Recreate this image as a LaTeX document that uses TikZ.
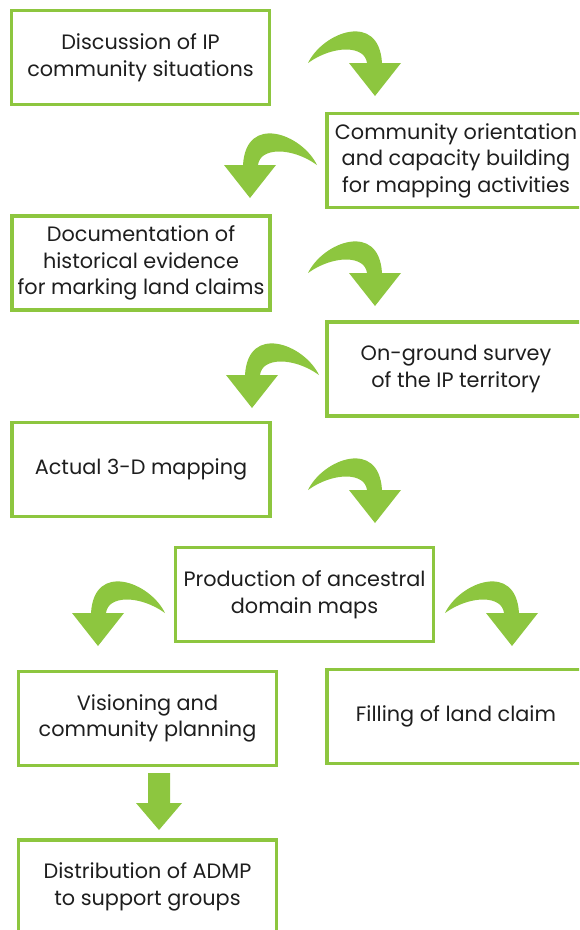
\documentclass[tikz,border=0pt]{standalone}
\usepackage{fontspec}
\setmainfont{Poppins}
\usetikzlibrary{calc}
\definecolor{gr}{HTML}{8DC63F}
\definecolor{tx}{HTML}{1E1E1E}
\begin{document}
\begin{tikzpicture}[x=1pt,y=-1pt,
  box/.style={draw=gr, line width=3.5pt, minimum width=258pt, minimum height=94pt,
    align=center, text=tx, inner sep=0pt, font=\fontsize{20.8}{26.5}\selectfont},
  carrow/.pic={
    \fill[gr] (0,0) .. controls (15,-31) and (71,-52) .. (74,0) -- (93,0) -- (67,33)
      -- (41,0) -- (59,0) .. controls (57,-18) and (25,-18) .. (0,0) -- cycle;
  }]
\useasboundingbox (0,0) rectangle (579,930);
\clip (0,0) rectangle (579,930);

\node[box] (b1) at (140.5,57.5) {Discussion of IP\\community situations};
\node[box] (b2) at (456,160.5) {Community orientation\\and capacity building\\for mapping activities};
\node[box] (b3) at (141,263) {Documentation of\\historical evidence\\for marking land claims};
\node[box] (b4) at (456,369) {On-ground survey\\of the IP territory};
\node[box] (b5) at (141,469.5) {Actual 3-D mapping};
\node[box] (b6) at (304.5,594.5) {Production of ancestral\\domain maps};
\node[box] (b7) at (147.5,718.5) {Visioning and\\community planning};
\node[box] (b8) at (456,716.5) {Filling of land claim};
\node[box] (b9) at (147.5,887) {Distribution of ADMP\\to support groups};

\pic at (308,63) {carrow};
\pic[xscale=-1] at (317,165) {carrow};
\pic at (308,273) {carrow};
\pic[xscale=-1] at (319,375) {carrow};
\pic at (308,490) {carrow};
\pic[xscale=-1] at (165,613) {carrow};
\pic at (445,613) {carrow};

\coordinate (dn) at (159,773);
\fill[gr] ($(dn)+(-11,0)$) -- ($(dn)+(11,0)$) -- ($(dn)+(11,30)$) -- ($(dn)+(23,30)$)
  -- ($(dn)+(0,57)$) -- ($(dn)+(-23,30)$) -- ($(dn)+(-11,30)$) -- cycle;
\end{tikzpicture}
\end{document}
